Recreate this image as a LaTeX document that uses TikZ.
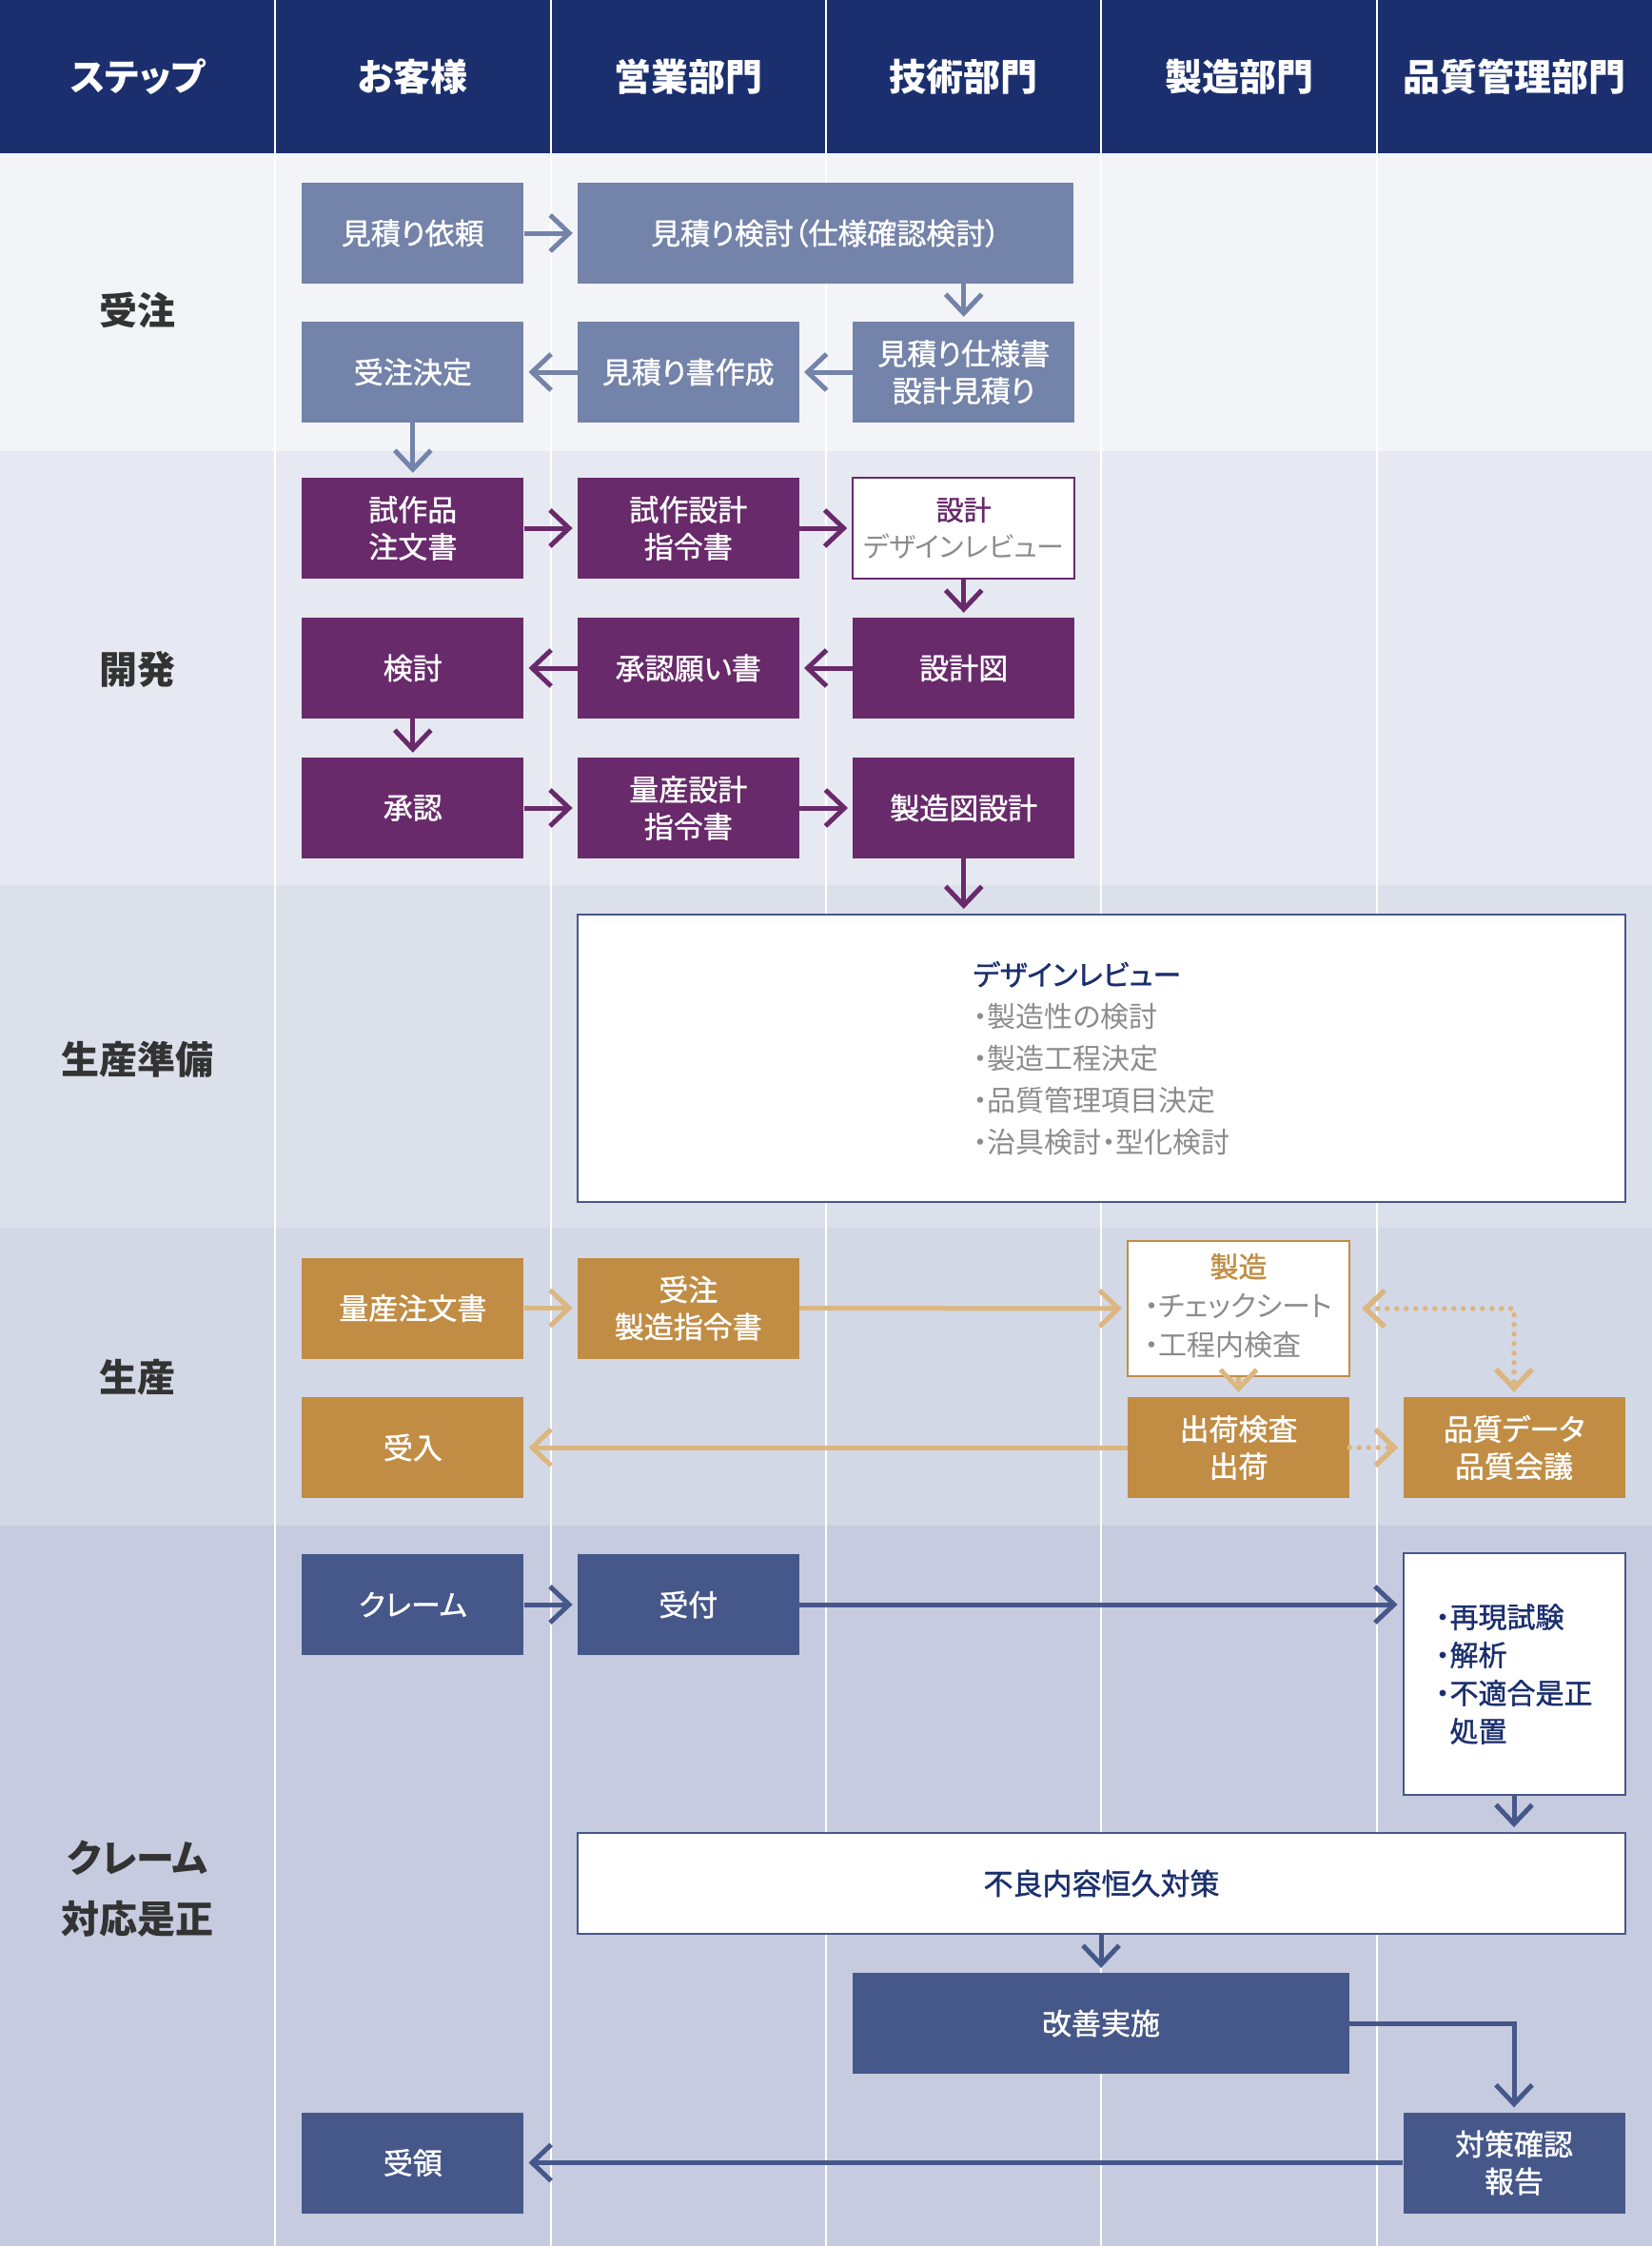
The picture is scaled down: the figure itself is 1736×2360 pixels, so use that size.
\documentclass[tikz,border=0pt]{standalone}
\usepackage{fontspec}
\setmainfont{Noto Sans CJK JP}[RawFeature=+palt]
\newfontfamily\medfont{Noto Sans CJK JP}[RawFeature=+palt,FakeBold=1.2]
\usetikzlibrary{arrows.meta}

\definecolor{headnavy}{HTML}{1B2F6E}
\definecolor{slate}{HTML}{7383A9}
\definecolor{plum}{HTML}{682A6B}
\definecolor{ochre}{HTML}{C18D45}
\definecolor{ochrelight}{HTML}{DCB680}
\definecolor{navyblue}{HTML}{46578A}
\definecolor{txtgray}{HTML}{8C8C8C}
\definecolor{steptxt}{HTML}{333333}
\definecolor{bandA}{HTML}{F3F4F8}
\definecolor{bandB}{HTML}{E6E9F1}
\definecolor{bandC}{HTML}{DCE0EB}
\definecolor{bandD}{HTML}{D2D8E5}
\definecolor{bandE}{HTML}{C6CBDF}

\tikzset{
  chev/.tip={Straight Barb[length=20pt,width=38pt]},
  flowbox/.style={minimum width=233pt,minimum height=106pt,inner sep=0pt,
    align=center,text=white,font=\fontsize{31}{39}\selectfont\medfont},
  slatebox/.style={flowbox,fill=slate},
  plumbox/.style={flowbox,fill=plum},
  ochrebox/.style={flowbox,fill=ochre},
  navybox/.style={flowbox,fill=navyblue},
  whitebox/.style={flowbox,fill=white,line width=2pt},
  flow/.style={line width=5pt,-chev,shorten >=5pt},
  slateflow/.style={flow,draw=slate},
  plumflow/.style={flow,draw=plum},
  ochreflow/.style={flow,draw=ochrelight},
  navyflow/.style={flow,draw=navyblue},
  dotflow/.style={flow,draw=ochrelight,line width=5.5pt,line cap=round,
    dash pattern=on 0pt off 10pt},
  headtext/.style={text=white,font=\fontsize{39}{44}\selectfont\bfseries},
  steptext/.style={text=steptxt,align=center,font=\fontsize{40}{64}\selectfont\bfseries}
}

\begin{document}
\begin{tikzpicture}[x=1pt,y=-1pt]
\useasboundingbox (0,0) rectangle (1736,2360);

% Bandes
\fill[headnavy] (0,0) rectangle (1736,161);

\foreach \ya/\yb/\c in {
161/474/bandA,
474/930/bandB,
930/1290/bandC,
1290/1603/bandD,
1603/2360/bandE}
{
\fill[\c] (0,\ya) rectangle (1736,\yb);
}

\foreach \x in {289.3,578.7,868,1157.3,1446.7}
{
\draw[white,line width=2pt] (\x,0) -- (\x,2360);
}

% En-tete
\foreach \x/\lab/\n in {
144.7/ステップ/hstep,
433.8/お客様/hcust,
723.3/営業部門/hsales,
1012.7/技術部門/htech,
1302/製造部門/hmfg,
1591.3/品質管理部門/hqa}
{
\node[headtext] (\n) at (\x,80.5) {\lab};
}

\node[steptext] (s1) at (144.7,326) {受注};
\node[steptext] (s2) at (144.7,703) {開発};
\node[steptext] (s3) at (144.7,1113) {生産準備};
\node[steptext] (s4) at (144.7,1447) {生産};
\node[steptext] (s5) at (144.7,1985) {クレーム\\対応是正};

% Juchu
\node[slatebox] (request) at (433.8,245) {見積り依頼};
\node[slatebox,minimum width=521pt] (estimate) at (867.5,245) {見積り検討（仕様確認検討）};
\node[slatebox] (spec) at (1012.7,391) {見積り仕様書\\設計見積り};
\node[slatebox] (quote) at (723.3,391) {見積り書作成};
\node[slatebox] (order) at (433.8,391) {受注決定};

\draw[slateflow] (request) -- (estimate);
\draw[slateflow] (estimate.south -| spec) -- (spec);
\draw[slateflow] (spec) -- (quote);
\draw[slateflow] (quote) -- (order);

% Kaihatsu
\node[plumbox] (protoorder) at (433.8,555) {試作品\\注文書};
\node[plumbox] (protodesign) at (723.3,555) {試作設計\\指令書};
\node[whitebox,draw=plum,text=txtgray,font=\fontsize{29}{39}\selectfont] (designdr) at (1012.7,555)
{{\color{plum}\medfont 設計}\\デザインレビュー};
\node[plumbox] (check) at (433.8,702) {検討};
\node[plumbox] (approvalreq) at (723.3,702) {承認願い書};
\node[plumbox] (drawing) at (1012.7,702) {設計図};
\node[plumbox] (approval) at (433.8,849) {承認};
\node[plumbox] (massdesign) at (723.3,849) {量産設計\\指令書};
\node[plumbox] (mfgdrawing) at (1012.7,849) {製造図設計};

\draw[slateflow] (order) -- (protoorder);
\draw[plumflow] (protoorder) -- (protodesign);
\draw[plumflow] (protodesign) -- (designdr);
\draw[plumflow] (designdr) -- (drawing);
\draw[plumflow] (drawing) -- (approvalreq);
\draw[plumflow] (approvalreq) -- (check);
\draw[plumflow] (check) -- (approval);
\draw[plumflow] (approval) -- (massdesign);
\draw[plumflow] (massdesign) -- (mfgdrawing);

% Seisan junbi
\node[whitebox,draw=navyblue,text=txtgray,align=left,minimum width=1101pt,
minimum height=302pt,font=\fontsize{30}{44}\selectfont] (dr) at (1157.5,1112)
{{\color{headnavy}\medfont デザインレビュー}\\・製造性の検討\\・製造工程決定\\・品質管理項目決定\\・治具検討・型化検討};

\draw[plumflow] (mfgdrawing) -- (mfgdrawing |- dr.north);

% Seisan
\node[ochrebox] (massorder) at (433.8,1374.5) {量産注文書};
\node[ochrebox] (prodorder) at (723.3,1374.5) {受注\\製造指令書};
\node[whitebox,draw=ochre,text=txtgray,minimum height=142pt,
font=\fontsize{30}{41}\selectfont] (production) at (1301.5,1375)
{\begin{tabular}{@{}l@{}}\multicolumn{1}{@{}c@{}}{\color{ochre}\medfont 製造}\\・チェックシート\\・工程内検査\end{tabular}};
\node[ochrebox] (receive) at (433.8,1521) {受入};
\node[ochrebox] (shipping) at (1301.5,1521) {出荷検査\\出荷};
\node[ochrebox] (qdata) at (1591,1521) {品質データ\\品質会議};

\draw[ochreflow] (massorder) -- (prodorder);
\draw[ochreflow] (prodorder) -- (production);
\draw[ochreflow] (production) -- (shipping);
\draw[ochreflow] (shipping) -- (receive);
\draw[dotflow] (shipping) -- (qdata);
\draw[dotflow,chev-chev,shorten <=12pt] (production.east) -| (qdata.north);

% Claim
\node[navybox] (claim) at (433.8,1686) {クレーム};
\node[navybox] (accept) at (723.3,1686) {受付};
\node[whitebox,draw=navyblue,text=headnavy,align=left,minimum height=254pt,
font=\fontsize{30}{40}\selectfont\medfont] (analysis) at (1591,1759)
{・再現試験\\・解析\\・不適合是正\\\phantom{・}処置};
\node[whitebox,draw=navyblue,text=headnavy,minimum width=1101pt] (measure) at (1157.5,1979) {不良内容恒久対策};
\node[navybox,minimum width=522pt] (improve) at (1157,2126) {改善実施};
\node[navybox] (report) at (1591,2272.5) {対策確認\\報告};
\node[navybox] (receipt) at (433.8,2272.5) {受領};

\draw[navyflow] (claim) -- (accept);
\draw[navyflow] (accept.east) -- (accept.east -| analysis.west);
\draw[navyflow] (analysis) -- (analysis |- measure.north);
\draw[navyflow] (measure.south -| improve) -- (improve);
\draw[navyflow] (improve) -| (report);
\draw[navyflow] (report) -- (receipt);

\end{tikzpicture}
\end{document}
